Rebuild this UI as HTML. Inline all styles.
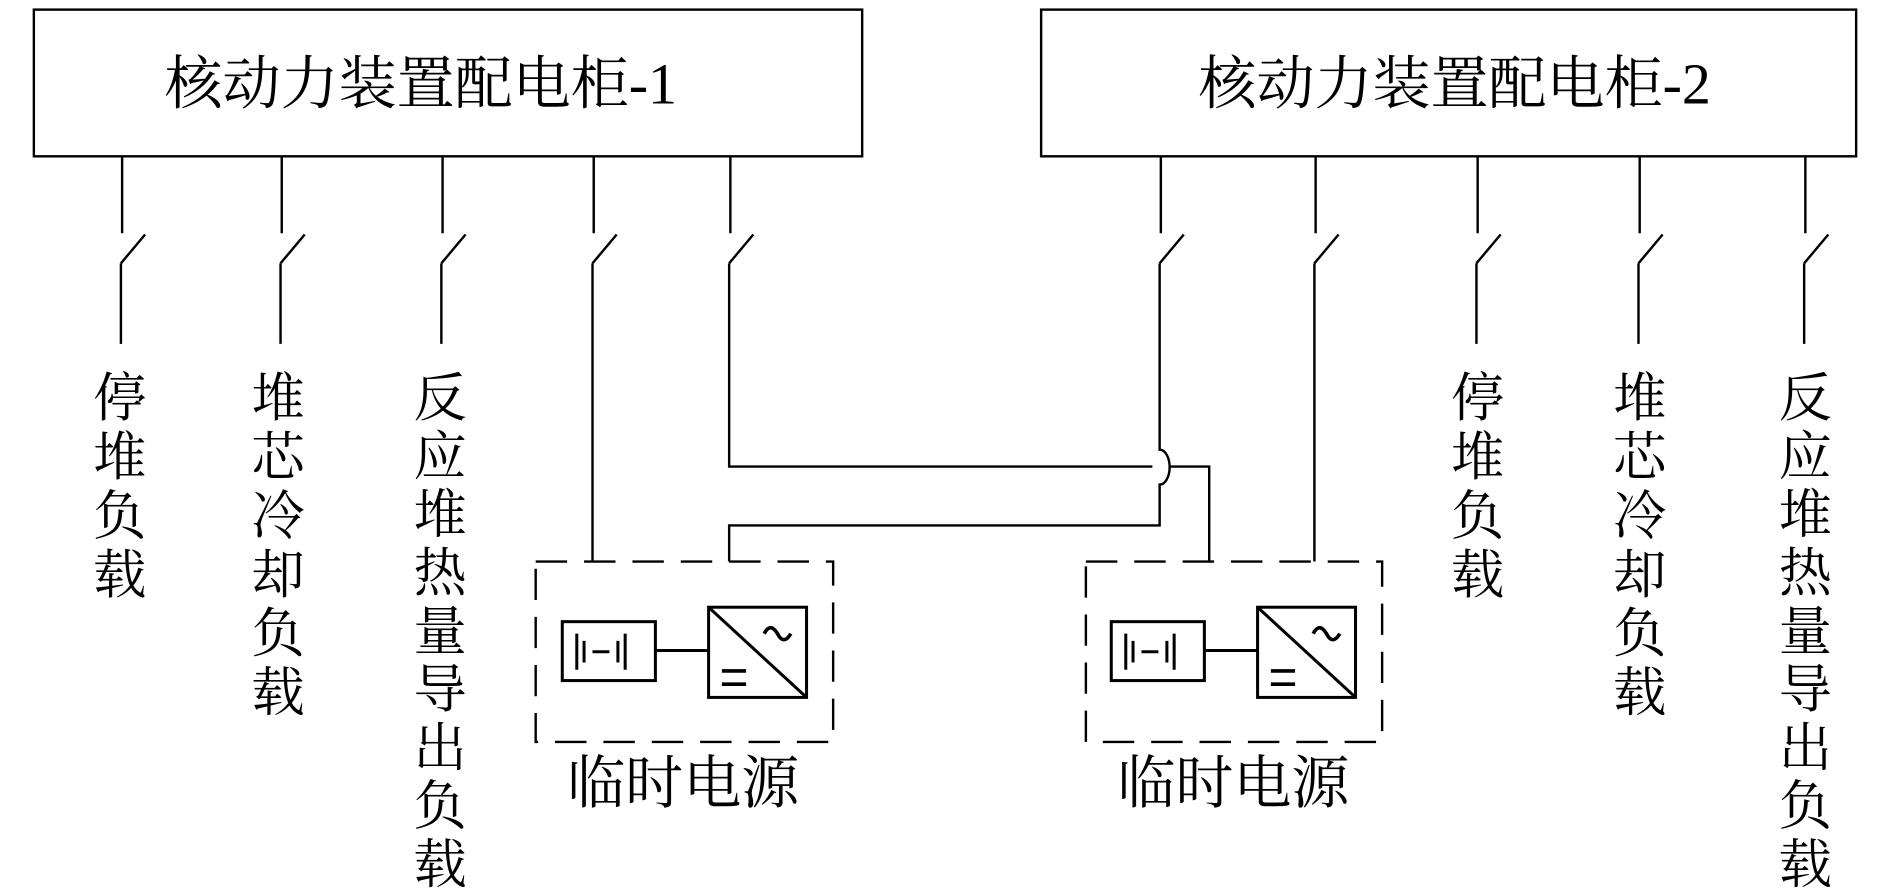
<!DOCTYPE html>
<html><head><meta charset="utf-8"><style>
html,body{margin:0;padding:0;background:#fff;}
svg{display:block}
text{font-family:"Liberation Serif","Noto Serif CJK SC",serif;fill:#000;}
</style></head><body>
<svg width="1890" height="891" viewBox="0 0 1563 741" preserveAspectRatio="none" xmlns="http://www.w3.org/2000/svg">
<g fill="none" stroke="#000" stroke-width="2">
<rect x="28" y="8" width="685" height="122"/>
<rect x="861" y="8" width="674" height="122"/>
<path d="M101 130V194 M100 219L120 195 M100 219V286"/>
<path d="M233 130V194 M232 219L252 195 M232 219V286"/>
<path d="M366 130V194 M365 219L385 195 M365 219V286"/>
<path d="M491 130V194 M490 219L510 195 M490 219V467"/>
<path d="M604 130V194 M603 219L623 195 M603 219V388H953 M967 388H1000V467"/>
<path d="M960 130V194 M959 219L979 195 M959 219V374 A8 14 0 0 1 959 403 V437H603V467"/>
<path d="M1088 130V194 M1087 219L1107 195 M1087 219V467"/>
<path d="M1222 130V194 M1221 219L1241 195 M1221 219V286"/>
<path d="M1356 130V194 M1355 219L1375 195 M1355 219V286"/>
<path d="M1493 130V194 M1492 219L1512 195 M1492 219V286"/>
<rect x="443" y="467" width="246" height="150" stroke-dasharray="26,14"/>
<rect x="898" y="467" width="245" height="150" stroke-dasharray="26,14"/>
<g stroke-width="2.5">
<rect x="465" y="517" width="77" height="49"/>
<path d="M477 527V557 M483 533V551 M490 542H504 M511 533V551 M517 527V557" />
<path d="M542 541H586"/>
<rect x="586" y="505" width="81" height="75"/>
<path d="M586 505L667 580"/>
<path d="M632 527q5 -10 11 0q5 10 11 0" stroke-width="3"/>
<path d="M597 558H617 M597 569H617" stroke-width="3"/>
</g>
<g transform="translate(454 0)" stroke-width="2.5">
<rect x="465" y="517" width="77" height="49"/>
<path d="M477 527V557 M483 533V551 M490 542H504 M511 533V551 M517 527V557" />
<path d="M542 541H586"/>
<rect x="586" y="505" width="81" height="75"/>
<path d="M586 505L667 580"/>
<path d="M632 527q5 -10 11 0q5 10 11 0" stroke-width="3"/>
<path d="M597 558H617 M597 569H617" stroke-width="3"/>
</g>
</g>
<g font-size="48">
<text x="348" y="86" text-anchor="middle">核动力装置配电柜-1</text>
<text x="1203" y="86" text-anchor="middle">核动力装置配电柜-2</text>
<text x="565" y="668" text-anchor="middle">临时电源</text>
<text x="1020" y="668" text-anchor="middle">临时电源</text>
</g>
<g font-size="44" text-anchor="middle">
<text x="99" y="346"><tspan x="99">停</tspan><tspan x="99" dy="49">堆</tspan><tspan x="99" dy="49">负</tspan><tspan x="99" dy="49">载</tspan></text>
<text x="230" y="346"><tspan x="230">堆</tspan><tspan x="230" dy="49">芯</tspan><tspan x="230" dy="49">冷</tspan><tspan x="230" dy="49">却</tspan><tspan x="230" dy="49">负</tspan><tspan x="230" dy="49">载</tspan></text>
<text x="364" y="346"><tspan x="364">反</tspan><tspan x="364" dy="48.5">应</tspan><tspan x="364" dy="48.5">堆</tspan><tspan x="364" dy="48.5">热</tspan><tspan x="364" dy="48.5">量</tspan><tspan x="364" dy="48.5">导</tspan><tspan x="364" dy="48.5">出</tspan><tspan x="364" dy="48.5">负</tspan><tspan x="364" dy="48.5">载</tspan></text>
<text x="1222" y="346"><tspan x="1222">停</tspan><tspan x="1222" dy="49">堆</tspan><tspan x="1222" dy="49">负</tspan><tspan x="1222" dy="49">载</tspan></text>
<text x="1356" y="346"><tspan x="1356">堆</tspan><tspan x="1356" dy="49">芯</tspan><tspan x="1356" dy="49">冷</tspan><tspan x="1356" dy="49">却</tspan><tspan x="1356" dy="49">负</tspan><tspan x="1356" dy="49">载</tspan></text>
<text x="1493" y="346"><tspan x="1493">反</tspan><tspan x="1493" dy="48.5">应</tspan><tspan x="1493" dy="48.5">堆</tspan><tspan x="1493" dy="48.5">热</tspan><tspan x="1493" dy="48.5">量</tspan><tspan x="1493" dy="48.5">导</tspan><tspan x="1493" dy="48.5">出</tspan><tspan x="1493" dy="48.5">负</tspan><tspan x="1493" dy="48.5">载</tspan></text>
</g>
</svg>
</body></html>
